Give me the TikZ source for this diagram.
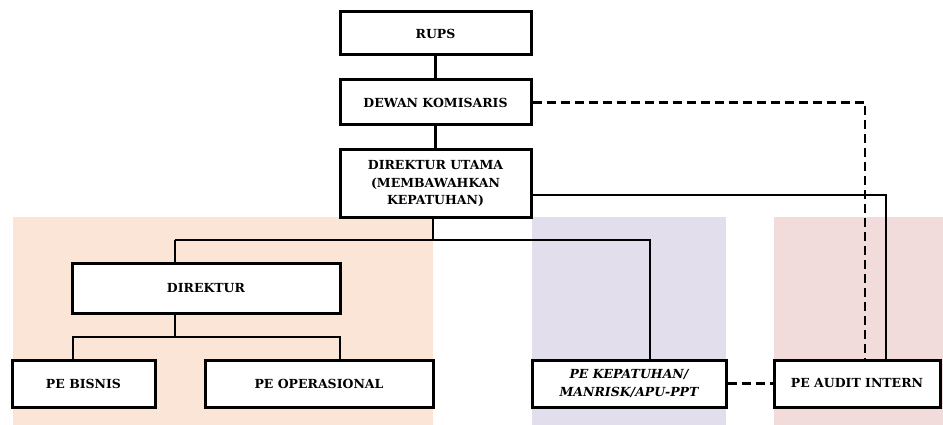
\documentclass[tikz,border=0pt]{standalone}
\usepackage{fontspec}
\setmainfont{DejaVu Serif}
\begin{document}
\begin{tikzpicture}[x=1pt,y=-1pt,
  box/.style={draw=black,line width=3pt,fill=white,align=center,inner sep=0pt,
    font=\bfseries\fontsize{12.5}{17.5}\selectfont},
  link/.style={line width=2.6pt},
  dlink/.style={line width=2.8pt,dash pattern=on 9pt off 5pt}]
\useasboundingbox (0,0) rectangle (943,425);
\definecolor{bgor}{HTML}{FBE5D6}
\definecolor{bgpu}{HTML}{E2DEEB}
\definecolor{bgre}{HTML}{F2DCDB}
\fill[bgor] (13,217) rectangle (433,425);
\fill[bgpu] (532,217) rectangle (726,425);
\fill[bgre] (774,217) rectangle (943,425);
\node[box,minimum width=191pt,minimum height=43pt] (rups) at (435.5,33.5) {RUPS};
\node[box,minimum width=191pt,minimum height=45pt] (dk) at (435.5,102.5) {DEWAN KOMISARIS};
\node[box,minimum width=191pt,minimum height=67pt] (du) at (435.5,183.5) {DIREKTUR UTAMA\\(MEMBAWAHKAN\\KEPATUHAN)};
\node[box,minimum width=268pt,minimum height=50pt] (dir) at (206,288) {DIREKTUR};
\node[box,minimum width=143pt,minimum height=47pt] (bis) at (83.5,383.5) {PE BISNIS};
\node[box,minimum width=228pt,minimum height=47pt] (ops) at (319,383.5) {PE OPERASIONAL};
\node[box,minimum width=194pt,minimum height=47pt,font=\bfseries\itshape\fontsize{12.5}{17.5}\selectfont] (kep) at (629,383.5) {PE KEPATUHAN/\\MANRISK/APU-PPT};
\node[box,minimum width=166pt,minimum height=47pt] (aud) at (857,383.5) {PE AUDIT INTERN};
\coordinate (j1) at (433,240);
\coordinate (j2) at (175,337);
\draw[link] (rups) -- (dk);
\draw[link] (dk) -- (du);
\draw[link] (du.south -| j1) -- (j1);
\draw[link] (175,240) -- (j1) -- (650,240) -- (kep.north -| 650,0);
\draw[link] (175,240) -- (dir.north -| 175,0);
\draw[link] (dir.south -| j2) -- (j2);
\draw[link] (bis.north -| 73,0) -- (73,337) -- (340,337) -- (ops.north -| 340,0);
\draw[link] (du.east |- 0,195) -- (886,195) -- (aud.north -| 886,0);
\draw[dlink] (dk.east) -- (865,102.5) -- (aud.north -| 865,0);
\draw[dlink] (kep.east) -- (aud.west);
\end{tikzpicture}
\end{document}
